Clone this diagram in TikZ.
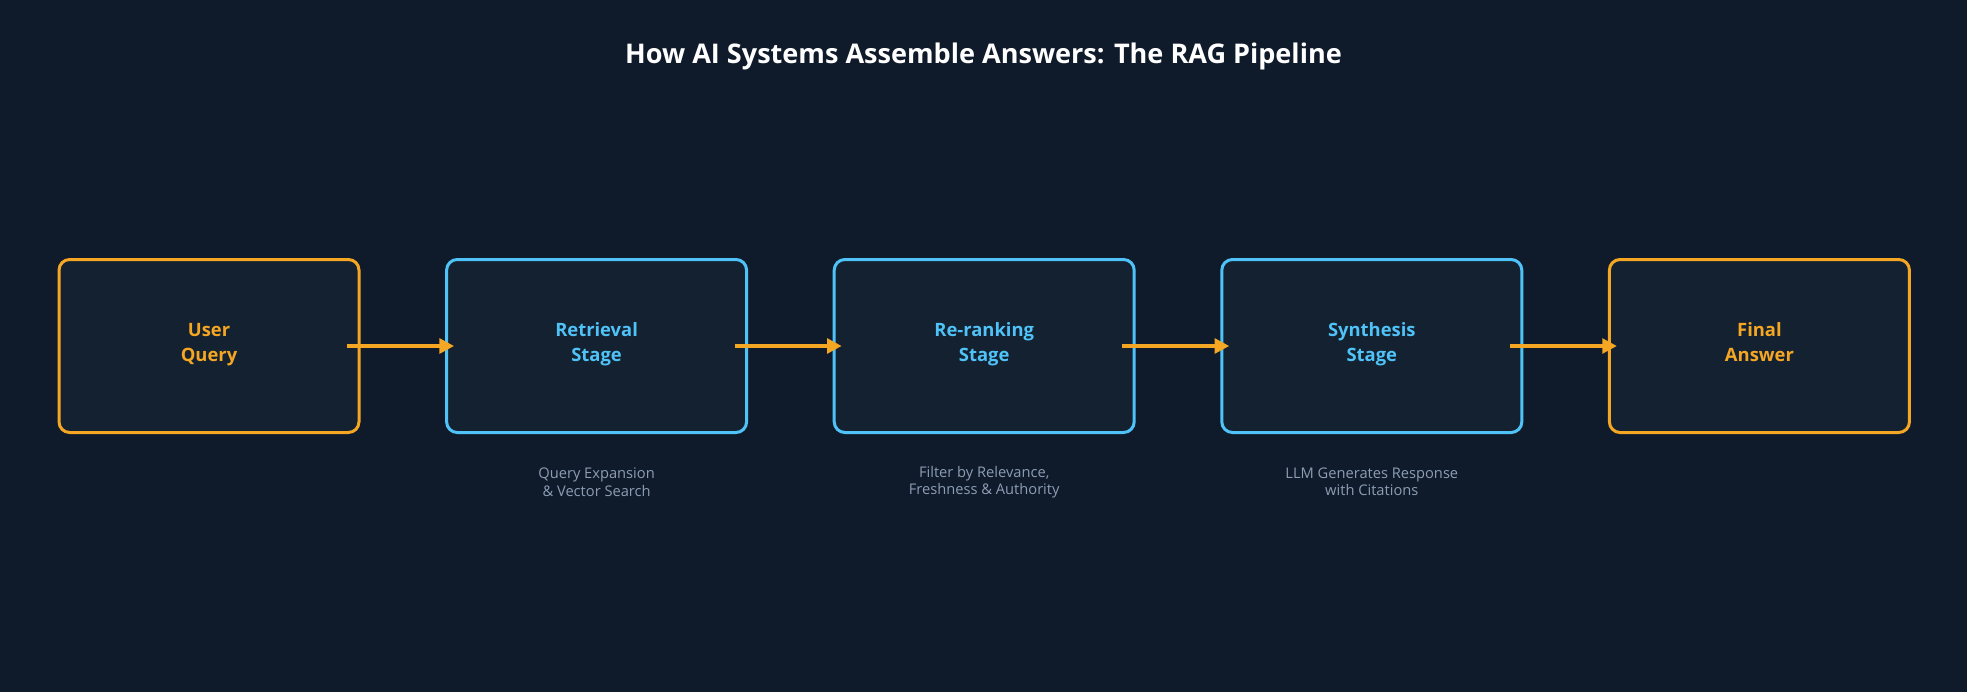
\documentclass[tikz,border=0pt]{standalone}
\usepackage{fontspec}
\setmainfont{Open Sans}
\usetikzlibrary{arrows.meta}
\definecolor{bgnavy}{HTML}{0F1B2A}
\definecolor{boxfill}{HTML}{132131}
\definecolor{accorange}{HTML}{F5A623}
\definecolor{accblue}{HTML}{4FC3F7}
\definecolor{notegrey}{HTML}{8C9DB5}
\tikzset{
  stage/.style={draw,rounded corners=8pt,line width=2.25pt,fill=boxfill,minimum width=225pt,minimum height=129.75pt,inner sep=0pt,align=center,font=\bfseries\fontsize{13.8}{18.75}\selectfont,execute at begin node={\rule{0pt}{19.5pt}},execute at end node=\strut},
  endstage/.style={stage,draw=accorange,text=accorange},
  midstage/.style={stage,draw=accblue,text=accblue},
  note/.style={text=notegrey,align=center,font=\fontsize{11}{13.1}\selectfont},
  flow/.style={draw=accorange,line width=3pt,-{Triangle[length=11pt,width=11pt]}}
}

\begin{document}
\begin{tikzpicture}[x=0.75pt,y=-0.75pt]
  \fill[bgnavy] (0,0) rectangle (1967,692);
  \useasboundingbox (0,0) rectangle (1967,692);
  \node[text=white,font=\bfseries\fontsize{20.3}{24}\selectfont] (title) at (983.5,56) {How AI Systems Assemble Answers: The RAG Pipeline};
  \node[endstage] (query) at (209,346) {User\\Query};
  \node[midstage] (retrieval) at (596.6,346) {Retrieval\\Stage};
  \node[midstage] (rerank) at (984.2,346) {Re-ranking\\Stage};
  \node[midstage] (synth) at (1371.8,346) {Synthesis\\Stage};
  \node[endstage] (answer) at (1759.4,346) {Final\\Answer};
  \node[note] (retrievalnote) at (596.6,482) {Query Expansion\\\& Vector Search};
  \node[note] (reranknote) at (984.2,482) {Filter by Relevance,\\Freshness \& Authority};
  \node[note] (synthnote) at (1371.8,482) {LLM Generates Response\\with Citations};
  \draw[flow] ([xshift=-10pt]query.east) -- ([xshift=6.75pt]retrieval.west);
  \draw[flow] ([xshift=-10pt]retrieval.east) -- ([xshift=6.75pt]rerank.west);
  \draw[flow] ([xshift=-10pt]rerank.east) -- ([xshift=6.75pt]synth.west);
  \draw[flow] ([xshift=-10pt]synth.east) -- ([xshift=6.75pt]answer.west);
\end{tikzpicture}
\end{document}
